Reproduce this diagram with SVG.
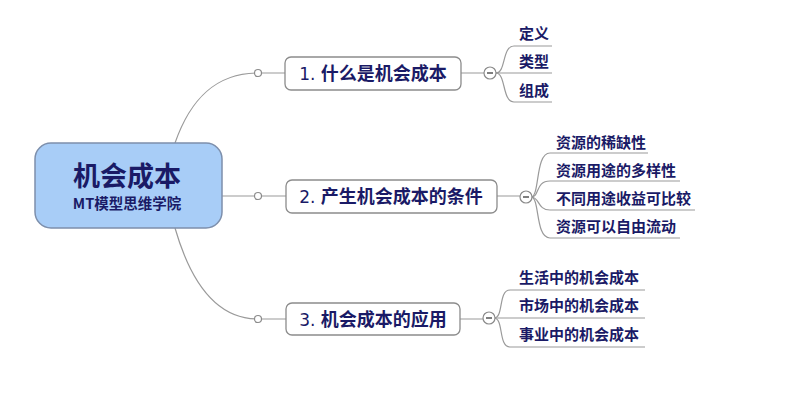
<svg xmlns="http://www.w3.org/2000/svg" width="788" height="401" viewBox="0 0 788 401">
<style>
.ln{fill:none;stroke:#9a9a9a;stroke-width:1.2}
.dot{fill:#fff;stroke:#8a8a8a;stroke-width:1.2}
.box{fill:#fff;stroke:#8c8c8c;stroke-width:1.3}
.bt{font-family:"Noto Sans CJK SC","Noto Sans",sans-serif;font-size:18px;font-weight:bold;fill:#1a1a66}
.num{font-family:"DejaVu Sans","Noto Sans",sans-serif;font-weight:normal;font-size:17px}
.lt{font-family:"Noto Sans CJK SC",sans-serif;font-size:15px;font-weight:bold;fill:#1a1a66}
</style>
<rect width="788" height="401" fill="#fff"/>
<g id="connectors">
<path class="ln" d="M175,143 C190,100 215,73 258,73"/>
<path class="ln" d="M222,196 L258,196"/>
<path class="ln" d="M175,228 C190,280 215,319 258,319"/>
<path class="ln" d="M258,73 H285 M461,73 H484"/>
<path class="ln" d="M258,196 H286 M497,196 H520"/>
<path class="ln" d="M258,319 H286 M460,319 H483"/>
<path class="ln" d="M496,73 C506,73 502,46 514,46 H552"/>
<path class="ln" d="M496,73 H552"/>
<path class="ln" d="M496,73 C506,73 502,102 514,102 H552"/>
<path class="ln" d="M531,197 C540,197 535,153 550,153 H648"/>
<path class="ln" d="M531,197 C540,197 535,181 550,181 H680"/>
<path class="ln" d="M531,197 C540,197 537,210 550,210 H695"/>
<path class="ln" d="M531,197 C540,197 535,238 550,238 H680"/>
<path class="ln" d="M494,318 C504,318 498,290 510,290 H645"/>
<path class="ln" d="M494,318 H645"/>
<path class="ln" d="M494,318 C504,318 498,347 510,347 H645"/>
<circle class="dot" cx="258" cy="73" r="3.5"/>
<circle class="dot" cx="258" cy="196" r="3.5"/>
<circle class="dot" cx="258" cy="319" r="3.5"/>
</g>
<g id="root">
<rect x="35" y="143" width="187" height="85" rx="16" fill="#a8cdf7" stroke="#7d8fac" stroke-width="1.5"/>
<text x="127" y="186" text-anchor="middle" font-family="Noto Sans CJK SC,sans-serif" font-size="27" font-weight="bold" fill="#1a1a66">机会成本</text>
<text x="127" y="209" text-anchor="middle" font-family="Noto Sans CJK SC,sans-serif" font-size="14.5" font-weight="bold" fill="#1a1a66">MT模型思维学院</text>
</g>
<g id="b1">
<rect class="box" x="285" y="57" width="176" height="33" rx="6"/>
<text class="bt" x="373" y="80" text-anchor="middle"><tspan class="num">1. </tspan>什么是机会成本</text>
<circle class="dot" cx="490" cy="73" r="6"/><path d="M487,73 H493" stroke="#555" stroke-width="1.5"/>
</g>
<g id="b2">
<rect class="box" x="286" y="180" width="211" height="33" rx="6"/>
<text class="bt" x="391" y="203" text-anchor="middle"><tspan class="num">2. </tspan>产生机会成本的条件</text>
<circle class="dot" cx="526" cy="197" r="6"/><path d="M523,197 H529" stroke="#555" stroke-width="1.5"/>
</g>
<g id="b3">
<rect class="box" x="286" y="303" width="174" height="32" rx="6"/>
<text class="bt" x="373" y="326" text-anchor="middle"><tspan class="num">3. </tspan>机会成本的应用</text>
<circle class="dot" cx="489" cy="318" r="6"/><path d="M486,318 H492" stroke="#555" stroke-width="1.5"/>
</g>
<g id="leaves1">
<text class="lt" x="519" y="39">定义</text>
<text class="lt" x="519" y="67">类型</text>
<text class="lt" x="519" y="96">组成</text>
</g>
<g id="leaves2">
<text class="lt" x="556" y="148">资源的稀缺性</text>
<text class="lt" x="556" y="176">资源用途的多样性</text>
<text class="lt" x="556" y="204">不同用途收益可比较</text>
<text class="lt" x="556" y="232">资源可以自由流动</text>
</g>
<g id="leaves3">
<text class="lt" x="519" y="283">生活中的机会成本</text>
<text class="lt" x="519" y="311">市场中的机会成本</text>
<text class="lt" x="519" y="340">事业中的机会成本</text>
</g>
</svg>
